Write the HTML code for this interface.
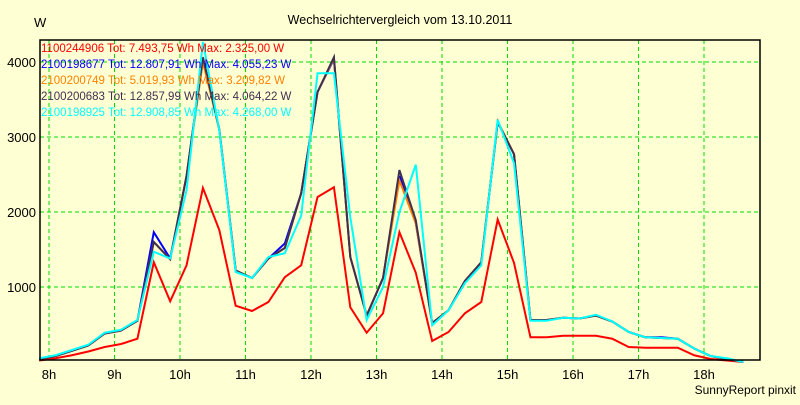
<!DOCTYPE html>
<html><head><meta charset="utf-8"><style>
body{margin:0;background:#ffffd4;}
svg text{font-family:"Liberation Sans",sans-serif;}
</style></head><body>
<svg width="800" height="400" viewBox="0 0 800 400" xmlns="http://www.w3.org/2000/svg">
<rect x="0" y="0" width="800" height="400" fill="#ffffd4"/>
<text x="400" y="24" font-size="12.5" text-anchor="middle">Wechselrichtervergleich vom 13.10.2011</text>
<text x="34" y="27" font-size="13">W</text>
<text x="796" y="394" font-size="12" text-anchor="end">SunnyReport pinxit</text>
<g id="grid"></g>
<g id="lines"></g>
<rect x="40" y="40" width="720" height="320" fill="none" stroke="#000" stroke-width="1.5"/>
<g id="legend"></g>
</svg>
<script>
const hours=["8h","9h","10h","11h","12h","13h","14h","15h","16h","17h","18h"];
const yTicks=[1000,2000,3000,4000];
const t0=7.85, step=0.25;
const red=[20,50,90,140,200,240,310,1330,810,1290,2320,1760,750,680,800,1130,1290,2200,2330,730,390,650,1730,1190,280,400,650,800,1900,1320,330,330,350,350,350,310,200,190,190,190,90,40,20,0];
const blue=[40,80,150,220,380,420,550,1730,1380,2480,4055,3100,1220,1120,1380,1580,2250,3600,4040,1400,620,1120,2480,1850,520,690,1080,1330,3200,2770,560,560,590,580,620,540,400,330,330,310,180,80,40,0];
const orange=[40,80,150,220,380,420,550,1600,1370,2480,4000,3100,1220,1120,1380,1520,2250,3600,4050,1400,620,1120,2420,1850,520,690,1080,1330,3210,2770,560,560,590,580,620,540,400,330,320,310,180,80,40,0];
const gray=[40,80,150,220,380,420,550,1600,1370,2480,4064,3100,1220,1120,1380,1520,2250,3600,4064,1400,620,1120,2560,1890,520,690,1080,1330,3200,2770,560,560,590,580,620,540,400,330,320,310,180,80,40,0];
const cyan=[50,90,160,230,390,430,560,1470,1380,2290,4268,3090,1200,1120,1400,1450,1950,3850,3850,1930,560,1000,2000,2630,490,690,1050,1290,3230,2650,550,550,590,580,630,540,400,330,320,310,180,80,50,0];
const legendText=["1100244906 Tot: 7.493,75 Wh Max: 2.325,00 W","2100198677 Tot: 12.807,91 Wh Max: 4.055,23 W","2100200749 Tot: 5.019,93 Wh Max: 3.209,82 W","2100200683 Tot: 12.857,99 Wh Max: 4.064,22 W","2100198925 Tot: 12.908,85 Wh Max: 4.268,00 W"];
const NS="http://www.w3.org/2000/svg";
function xS(h){return 49+(h-8)*65.5;}
function yS(v){return 362-v*0.075;}
const grid=document.getElementById('grid');
hours.forEach((lab,i)=>{
 const x=xS(8+i);
 const l=document.createElementNS(NS,'line');
 
 
 l.setAttribute('x1',x);l.setAttribute('x2',x);l.setAttribute('y1',40);l.setAttribute('y2',360);
 l.setAttribute('stroke','#00dd00');l.setAttribute('stroke-dasharray','4,3');
 grid.appendChild(l);
 const t=document.createElementNS(NS,'text');
 
 
 t.setAttribute('x',x);t.setAttribute('y',379);t.setAttribute('font-size','13');t.setAttribute('text-anchor','middle');
 t.textContent=lab;grid.appendChild(t);
});
yTicks.forEach(v=>{
 const y=yS(v);
 const l=document.createElementNS(NS,'line');
 
 
 l.setAttribute('x1',40);l.setAttribute('x2',760);l.setAttribute('y1',y);l.setAttribute('y2',y);
 l.setAttribute('stroke','#00dd00');l.setAttribute('stroke-dasharray','4,3');
 grid.appendChild(l);
 const t=document.createElementNS(NS,'text');
 
 
 t.setAttribute('x',36);t.setAttribute('y',y+5);t.setAttribute('font-size','13');t.setAttribute('text-anchor','end');
 t.textContent=v;grid.appendChild(t);
});
const series=[[red,'#ff0000','series-1100244906'],[blue,'#0000ff','series-2100198677'],[orange,'#ff8000','series-2100200749'],[gray,'#403050','series-2100200683'],[cyan,'#00ffff','series-2100198925']];
const lines=document.getElementById('lines');
series.forEach(s=>{
 const p=document.createElementNS(NS,'polyline');
 
 
 p.setAttribute('points',s[0].map((v,k)=>xS(t0+k*step)+','+yS(v)).join(' '));
 p.setAttribute('fill','none');p.setAttribute('stroke',s[1]);p.setAttribute('stroke-width','2');
 lines.appendChild(p);
});
const legend=document.getElementById('legend');
legendText.forEach((txt,i)=>{
 const t=document.createElementNS(NS,'text');
 
 
 t.setAttribute('x',41);t.setAttribute('y',52+i*16);t.setAttribute('font-size','11.5');
 t.setAttribute('fill',series[i][1]);
 t.textContent=txt;legend.appendChild(t);
});
</script>
</body></html>
